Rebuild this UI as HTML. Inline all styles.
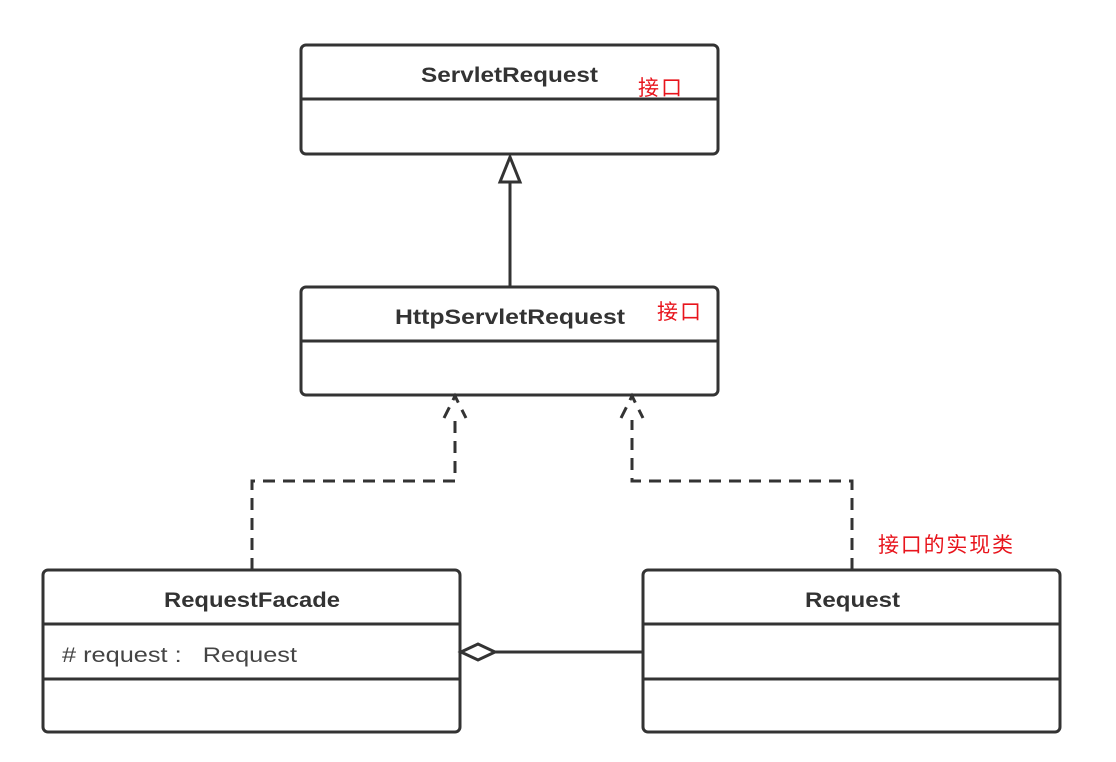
<!DOCTYPE html>
<html><head><meta charset="utf-8"><style>
html,body{margin:0;padding:0;background:#fff;}
svg{display:block;}
.b{font-family:"Liberation Sans","DejaVu Sans",sans-serif;font-weight:bold;font-size:21px;fill:#333;}
.n{font-family:"Liberation Sans","DejaVu Sans",sans-serif;font-size:21px;fill:#444;}
.r{font-family:"Liberation Sans","Noto Sans CJK SC",sans-serif;font-size:21px;fill:#e8141c;}
</style></head><body>
<svg width="1116" height="762" viewBox="0 0 1116 762" xmlns="http://www.w3.org/2000/svg">
<g fill="#fff" stroke="#333" stroke-width="3">
<rect x="301" y="45" width="417" height="109" rx="5"/>
<line x1="301" y1="99" x2="718" y2="99"/>
<rect x="301" y="287" width="417" height="108" rx="5"/>
<line x1="301" y1="341" x2="718" y2="341"/>
<rect x="43" y="570" width="417" height="162" rx="5"/>
<line x1="43" y1="624" x2="460" y2="624"/>
<line x1="43" y1="679" x2="460" y2="679"/>
<rect x="643" y="570" width="417" height="162" rx="5"/>
<line x1="643" y1="624" x2="1060" y2="624"/>
<line x1="643" y1="679" x2="1060" y2="679"/>
</g>
<g stroke="#333" stroke-width="3" fill="none">
<line x1="510" y1="182" x2="510" y2="287"/>
<polygon points="510,157 500,182 520,182" fill="#fff"/>
<line x1="495" y1="652" x2="643" y2="652"/>
<polygon points="461,652 478,644 495,652 478,660" fill="#fff"/>
</g>
<g stroke="#333" stroke-width="3" fill="none" stroke-dasharray="12,8">
<polyline points="252,570 252,481 455,481 455,420"/>
<polyline points="852,570 852,481 632,481 632,420"/>
<polyline points="444,418 455,396 466,418"/>
<polyline points="621,418 632,396 643,418"/>
</g>
<text class="b" x="421" y="82" textLength="177" lengthAdjust="spacingAndGlyphs">ServletRequest</text>
<text class="b" x="395" y="324" textLength="230" lengthAdjust="spacingAndGlyphs">HttpServletRequest</text>
<text class="b" x="164" y="607" textLength="176" lengthAdjust="spacingAndGlyphs">RequestFacade</text>
<text class="b" x="805" y="607" textLength="95" lengthAdjust="spacingAndGlyphs">Request</text>
<text class="n" x="62" y="662" textLength="235" lengthAdjust="spacingAndGlyphs"># request :&#160;&#160; Request</text>
<text class="r" x="638" y="95" textLength="44">接口</text>
<text class="r" x="657" y="319" textLength="44">接口</text>
<text class="r" x="878" y="552" textLength="135">接口的实现类</text>
</svg>
</body></html>
